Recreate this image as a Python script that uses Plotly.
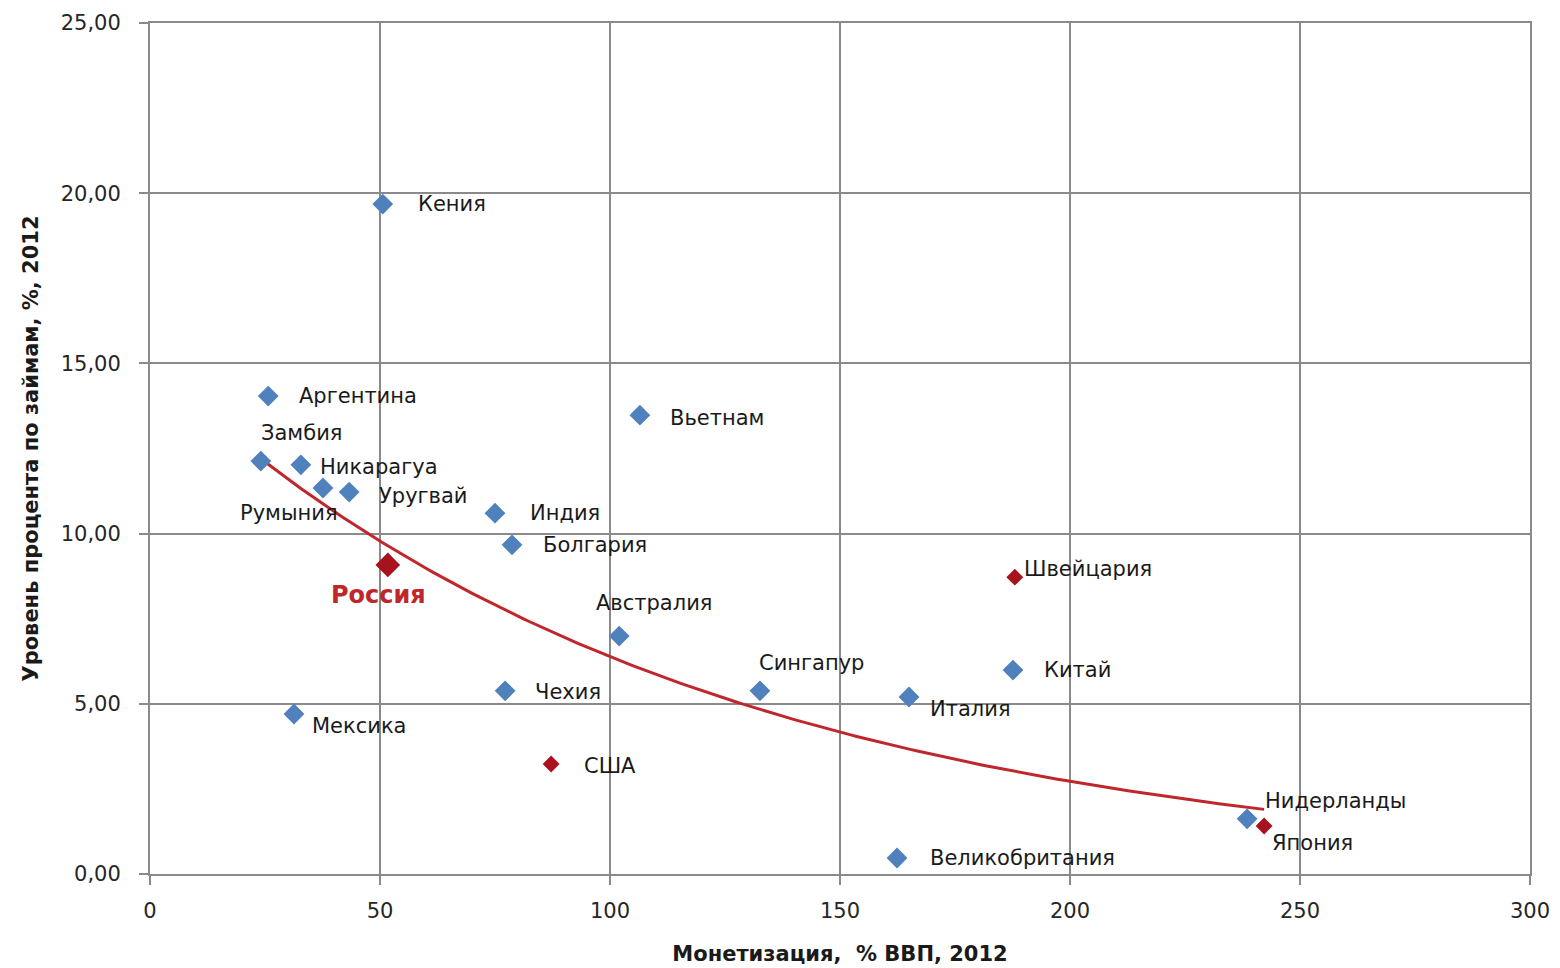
import numpy as np
import plotly.graph_objects as go

# ---------------- data ----------------
countries = ["Кения", "Аргентина", "Замбия", "Никарагуа", "Румыния", "Уругвай",
             "Индия", "Болгария", "Вьетнам", "Австралия", "Сингапур", "Чехия",
             "Китай", "Италия", "Мексика", "Великобритания", "Нидерланды",
             "Россия", "Швейцария", "США", "Япония"]
monetization = [50.6, 25.7, 24.1, 32.8, 37.6, 43.3,
                75.0, 78.7, 106.5, 102.0, 132.6, 77.2,
                187.6, 165.0, 31.3, 162.4, 238.5,
                51.7, 188.0, 87.2, 242.2]
interest = [19.68, 14.04, 12.13, 12.02, 11.34, 11.22,
            10.60, 9.67, 13.48, 6.99, 5.38, 5.38,
            5.99, 5.20, 4.70, 0.47, 1.62,
            9.08, 8.72, 3.23, 1.41]
group = ["other"] * 17 + ["russia", "highlight", "highlight", "highlight"]

x_ticks = [0, 50, 100, 150, 200, 250, 300]
y_ticks = [0, 5, 10, 15, 20, 25]

# ---------------- styles ----------------
BLUE = "#4f81bd"
DARK_RED = "#a8121c"
TREND_RED = "#c0272d"
GRID = "#8a8a8a"
FONT = "DejaVu Sans"

# label offsets in pixels: (xanchor, xshift, yshift)
label_pos = {
    "Кения": ("left", 33, 0),
    "Аргентина": ("left", 29, 0),
    "Замбия": ("left", -2, 28),
    "Никарагуа": ("left", 17, -2),
    "Румыния": ("left", -85, -25),
    "Уругвай": ("left", 28, -4),
    "Индия": ("left", 33, 0),
    "Болгария": ("left", 29, 0),
    "Вьетнам": ("left", 28, -3),
    "Австралия": ("center", 35, 33),
    "Сингапур": ("center", 52, 28),
    "Чехия": ("left", 28, -1),
    "Китай": ("left", 29, 0),
    "Италия": ("left", 19, -12),
    "Мексика": ("left", 16, -12),
    "Великобритания": ("left", 31, 0),
    "Нидерланды": ("left", 16, 18),
    "Россия": ("center", -9, -30),
    "Швейцария": ("left", 7, 8),
    "США": ("left", 31, -2),
    "Япония": ("left", 6, -17),
}

x = np.array(monetization)
y = np.array(interest)

# exponential trendline (least squares on ln y, as Excel does)
b, ln_a = np.polyfit(x, np.log(y), 1)
xs = np.linspace(x.min(), x.max(), 200)
ys = np.exp(ln_a) * np.exp(b * xs)

fig = go.Figure()

fig.add_trace(go.Scatter(x=xs, y=ys, mode="lines",
                         line=dict(color=TREND_RED, width=3),
                         hoverinfo="skip", showlegend=False))

def subset(g):
    idx = [i for i, gg in enumerate(group) if gg == g]
    return [monetization[i] for i in idx], [interest[i] for i in idx], [countries[i] for i in idx]

ox, oy, on = subset("other")
fig.add_trace(go.Scatter(x=ox, y=oy, mode="markers", text=on,
                         marker=dict(symbol="diamond", size=16, color=BLUE),
                         showlegend=False))
hx, hy, hn = subset("highlight")
fig.add_trace(go.Scatter(x=hx, y=hy, mode="markers", text=hn,
                         marker=dict(symbol="diamond", size=13, color=DARK_RED),
                         showlegend=False))
rx, ry, rn = subset("russia")
fig.add_trace(go.Scatter(x=rx, y=ry, mode="markers", text=rn,
                         marker=dict(symbol="diamond", size=19, color=DARK_RED),
                         showlegend=False))

for name, xv, yv in zip(countries, monetization, interest):
    anchor, dx, dy = label_pos[name]
    if name == "Россия":
        font = dict(family=FONT, size=24, color=TREND_RED, weight="bold")
    else:
        font = dict(family=FONT, size=21, color="#1a1a1a")
    fig.add_annotation(x=xv, y=yv, text=name, showarrow=False,
                       xanchor=anchor, yanchor="middle",
                       xshift=dx, yshift=dy, font=font)

axis_common = dict(showgrid=True, gridcolor=GRID, gridwidth=2,
                   showline=True, linecolor=GRID, linewidth=2, mirror=True,
                   ticks="outside", ticklen=9, tickcolor=GRID, tickwidth=2,
                   zeroline=False, automargin=False,
                   tickfont=dict(family=FONT, size=21, color="#262626"))

fig.update_layout(
    width=1552, height=960,
    margin=dict(l=142, r=30, t=15, b=94),
    paper_bgcolor="white", plot_bgcolor="white",
    separators=", ",
    xaxis=dict(range=[0, 300], tickvals=x_ticks, ticklabelstandoff=8,
               title=dict(text="Монетизация,  % ВВП, 2012", standoff=24,
                          font=dict(family=FONT, size=21, color="#1a1a1a", weight="bold")),
               **axis_common),
    yaxis=dict(range=[0, 25], tickvals=y_ticks, tickformat=".2f", ticklabelstandoff=14,
               title=dict(text="Уровень процента по займам, %, 2012", standoff=16,
                          font=dict(family=FONT, size=21, color="#1a1a1a", weight="bold")),
               **axis_common),
)

fig.write_html("out.html")
